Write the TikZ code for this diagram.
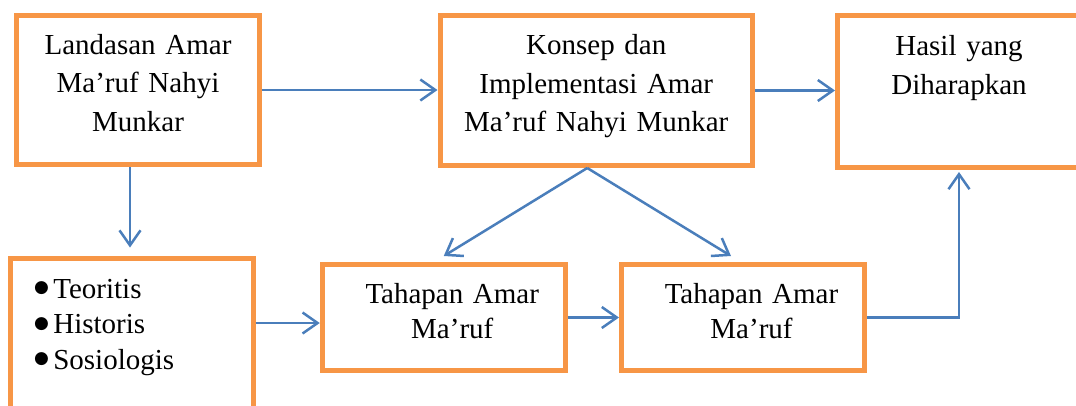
\documentclass[tikz,border=0pt]{standalone}
\usepackage{fontspec}
\setmainfont{Liberation Serif}
\newfontfamily\symfont{DejaVu Sans}
\usetikzlibrary{arrows.meta, positioning}
\definecolor{boxorange}{RGB}{247,150,70}
\definecolor{flowblue}{RGB}{74,126,187}
\tikzset{%
	box/.style={draw=boxorange, line width=5pt, rectangle, inner sep=0pt, align=center,%
		font=\fontsize{29}{38.5}\selectfont, text depth=92pt},
	stepbox/.style={box, font=\fontsize{29}{35}\selectfont, text depth=49pt,%
		minimum width=243pt, minimum height=106pt, text width=225pt},
	listbox/.style={box, align=left, font=\fontsize{29}{35.5}\selectfont, text depth=150pt},
	flow/.style={-{Straight Barb[length=15pt, width=21pt]}, draw=flowblue, line width=2.5pt}
}
\newcommand\itemdot{\raisebox{5.5pt}{\symfont\fontsize{17}{17}\selectfont ●}\hspace{4.5pt}}
\newcommand\indentstep{\hspace*{17pt}}

\begin{document}
\begin{tikzpicture}[x=1pt, y=-1pt]
	\useasboundingbox (0,0) rectangle (1076,405);
	\clip (0,0) rectangle (1076,405);

	\node[box, minimum width=243pt, minimum height=149pt, text width=230pt] (landasan) at (138,90) {Landasan Amar\\Ma’ruf Nahyi\\Munkar};
	\node[box, minimum width=312.5pt, minimum height=150pt, text width=290pt] (konsep) at (596.25,90.5) {Konsep dan\\Implementasi Amar\\Ma’ruf Nahyi Munkar};
	\node[box, minimum width=243pt, minimum height=152pt, text width=230pt] (hasil) at (959,91.5) {Hasil yang\\Diharapkan};

	\node[listbox, anchor=north west, text width=195.5pt, inner xsep=23.5pt, inner ysep=21pt] (aspek) at (8,255.5) {\itemdot Teoritis\\\itemdot Historis\\\itemdot Sosiologis};
	\node[stepbox] (tahap1) at (443.75,317.5) {\indentstep Tahapan Amar\\\indentstep Ma’ruf};
	\node[stepbox] (tahap2) at (743,317.5) {\indentstep Tahapan Amar\\\indentstep Ma’ruf};

	\coordinate (split) at ([xshift=-9pt]konsep.south);

	\draw[flow] (landasan.east) -- (landasan.east -| konsep.west);
	\draw[flow] (konsep.east) -- (konsep.east -| hasil.west);
	\draw[flow, shorten >=8pt] ([xshift=-8pt]landasan.south) -- ([xshift=-8pt]landasan.south |- aspek.north);
	\draw[flow] ([yshift=-5.5pt]tahap1.west -| aspek.east) -- ([yshift=-5.5pt]tahap1.west);
	\draw[flow] (tahap1) -- (tahap2);
	\draw[flow] (split) -- ([yshift=6pt]tahap1.north);
	\draw[flow] (split) -- ([xshift=-12pt, yshift=6pt]tahap2.north);
	\draw[flow, shorten >=2pt] (tahap2.east) -| (hasil.south);
\end{tikzpicture}
\end{document}
